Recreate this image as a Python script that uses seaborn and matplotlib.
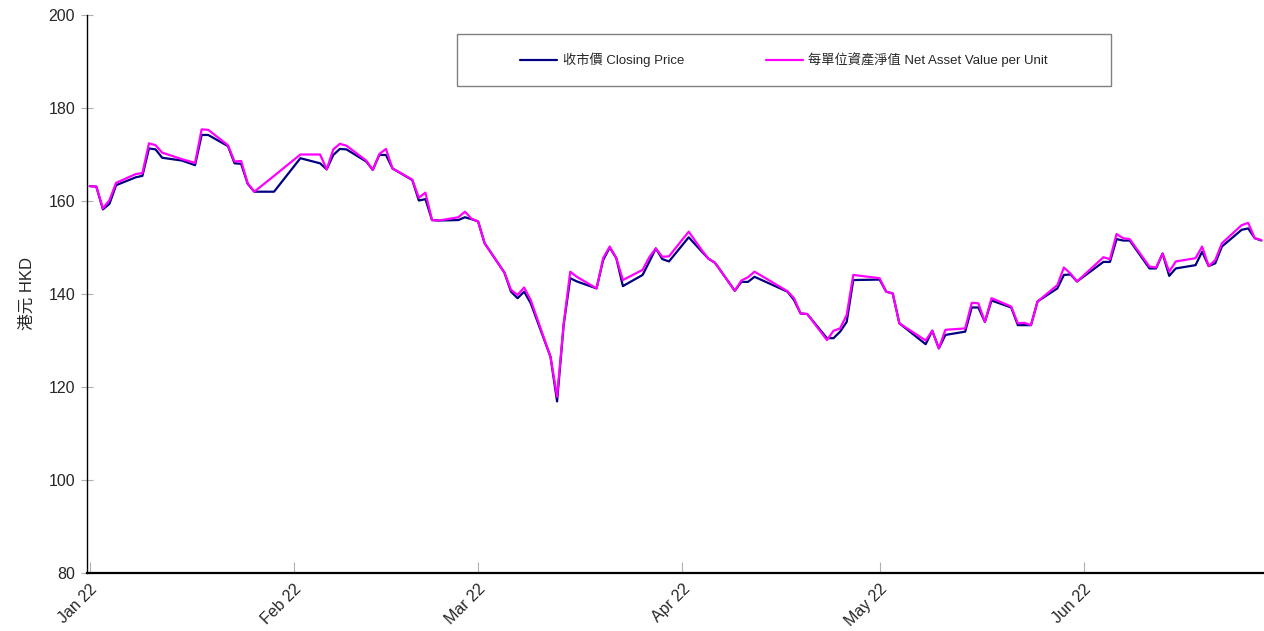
import matplotlib
matplotlib.use("Agg")
import matplotlib.pyplot as plt
import matplotlib.patches as mpatches
import seaborn as sns
import pandas as pd

dates = [
    "2022-01-03", "2022-01-04", "2022-01-05", "2022-01-06", "2022-01-07",
    "2022-01-10", "2022-01-11", "2022-01-12", "2022-01-13", "2022-01-14",
    "2022-01-17", "2022-01-18", "2022-01-19", "2022-01-20", "2022-01-21",
    "2022-01-24", "2022-01-25", "2022-01-26", "2022-01-27", "2022-01-28",
    "2022-01-31", "2022-02-04",
    "2022-02-07", "2022-02-08", "2022-02-09", "2022-02-10", "2022-02-11",
    "2022-02-14", "2022-02-15", "2022-02-16", "2022-02-17", "2022-02-18",
    "2022-02-21", "2022-02-22", "2022-02-23", "2022-02-24", "2022-02-25",
    "2022-02-28", "2022-03-01", "2022-03-02", "2022-03-03", "2022-03-04",
    "2022-03-07", "2022-03-08", "2022-03-09", "2022-03-10", "2022-03-11",
    "2022-03-14", "2022-03-15", "2022-03-16", "2022-03-17", "2022-03-18",
    "2022-03-21", "2022-03-22", "2022-03-23", "2022-03-24", "2022-03-25",
    "2022-03-28", "2022-03-29", "2022-03-30", "2022-03-31", "2022-04-01",
    "2022-04-04", "2022-04-06", "2022-04-07", "2022-04-08",
    "2022-04-11", "2022-04-12", "2022-04-13", "2022-04-14",
    "2022-04-19", "2022-04-20", "2022-04-21", "2022-04-22",
    "2022-04-25", "2022-04-26", "2022-04-27", "2022-04-28", "2022-04-29",
    "2022-05-03", "2022-05-04", "2022-05-05", "2022-05-06",
    "2022-05-10", "2022-05-11", "2022-05-12", "2022-05-13",
    "2022-05-16", "2022-05-17", "2022-05-18", "2022-05-19", "2022-05-20",
    "2022-05-23", "2022-05-24", "2022-05-25", "2022-05-26", "2022-05-27",
    "2022-05-30", "2022-05-31", "2022-06-01", "2022-06-02",
    "2022-06-06", "2022-06-07", "2022-06-08", "2022-06-09", "2022-06-10",
    "2022-06-13", "2022-06-14", "2022-06-15", "2022-06-16", "2022-06-17",
    "2022-06-20", "2022-06-21", "2022-06-22", "2022-06-23", "2022-06-24",
    "2022-06-27", "2022-06-28", "2022-06-29", "2022-06-30",
]

closing_price = [
    163.2, 163.1, 158.2, 159.4, 163.4,
    165.1, 165.4, 171.3, 171.1, 169.3,
    168.7, 168.2, 167.7, 174.2, 174.2,
    171.8, 168.1, 168.0, 163.7, 162.0,
    162.0, 169.2,
    168.1, 166.8, 169.9, 171.2, 171.1,
    168.5, 166.7, 169.9, 169.9, 167.0,
    164.5, 160.1, 160.4, 155.9, 155.8,
    155.9, 156.5, 156.1, 155.6, 150.9,
    144.6, 140.5, 139.1, 140.5, 138.0,
    126.5, 116.9, 133.3, 143.4, 142.7,
    141.2, 147.3, 150.0, 147.7, 141.7,
    144.1, 146.9, 149.8, 147.5, 147.0,
    152.2, 149.1, 147.6, 146.7,
    140.7, 142.6, 142.6, 143.7,
    140.5, 138.7, 135.8, 135.7,
    130.5, 130.5, 131.9, 134.0, 143.0,
    143.1, 140.5, 140.1, 133.7,
    129.2, 132.1, 128.3, 131.2,
    131.9, 137.1, 137.1, 134.0, 138.6,
    137.1, 133.3, 133.3, 133.3, 138.4,
    141.2, 144.1, 144.2, 142.7,
    146.9, 146.9, 151.8, 151.5, 151.5,
    145.5, 145.5, 148.7, 143.9, 145.5,
    146.2, 149.1, 146.0, 146.6, 150.2,
    153.8, 154.1, 152.0, 151.5,
]

nav_per_unit = [
    163.2, 163.1, 158.4, 160.2, 163.9,
    165.8, 166.0, 172.4, 172.0, 170.4,
    169.0, 168.6, 168.2, 175.4, 175.3,
    172.0, 168.5, 168.6, 163.8, 162.0,
    165.4, 170.0,
    170.0, 166.8, 171.1, 172.3, 171.9,
    168.7, 166.7, 170.1, 171.2, 167.0,
    164.6, 160.7, 161.8, 155.9, 155.8,
    156.5, 157.7, 156.2, 155.6, 150.9,
    144.6, 140.9, 139.8, 141.4, 138.7,
    126.5, 117.9, 133.6, 144.8, 143.7,
    141.2, 147.7, 150.2, 147.7, 143.0,
    145.2, 147.9, 149.8, 148.0, 148.1,
    153.4, 149.4, 147.6, 146.7,
    140.7, 142.9, 143.6, 144.8,
    140.6, 139.1, 135.8, 135.7,
    130.1, 132.1, 132.6, 135.5, 144.1,
    143.4, 140.5, 140.1, 133.7,
    130.0, 132.1, 128.3, 132.3,
    132.6, 138.1, 138.0, 134.0, 139.1,
    137.3, 133.7, 133.8, 133.3, 138.4,
    141.9, 145.7, 144.4, 142.7,
    147.9, 147.5, 152.9, 152.0, 151.8,
    145.9, 145.7, 148.7, 144.8, 147.0,
    147.7, 150.2, 146.0, 147.3, 150.9,
    154.8, 155.3, 152.0, 151.6,
]

tick_dates = ["2022-01-03", "2022-02-03", "2022-03-03", "2022-04-03", "2022-05-03", "2022-06-03"]
tick_labels = ["Jan 22", "Feb 22", "Mar 22", "Apr 22", "May 22", "Jun 22"]
y_ticks = [80, 100, 120, 140, 160, 180, 200]

label_close = "收市價 Closing Price"
label_nav = "每單位資產淨值 Net Asset Value per Unit"
y_label = "港元 HKD"

sns.set_style("white")
plt.rcParams["font.family"] = ["Liberation Sans", "Noto Sans CJK TC", "DejaVu Sans"]

df = pd.DataFrame({
    "date": pd.to_datetime(dates),
    "close": closing_price,
    "nav": nav_per_unit,
})

fig = plt.figure(figsize=(12.64, 6.31), dpi=100)
ax = fig.add_axes([87 / 1264, 1 - 573 / 631, 1176 / 1264, 558 / 631])

sns.lineplot(data=df, x="date", y="close", ax=ax, color="#000080", linewidth=1.6, label=label_close)
sns.lineplot(data=df, x="date", y="nav", ax=ax, color="#FF00FF", linewidth=1.6, label=label_nav)

ax.set_ylim(80, 200)
ax.set_yticks(y_ticks)
ax.set_xlim(pd.Timestamp("2022-01-03") - pd.Timedelta(hours=10), pd.Timestamp("2022-06-30") + pd.Timedelta(hours=6))
ax.set_xticks(pd.to_datetime(tick_dates))
ax.set_xticklabels(tick_labels, rotation=45, ha="right", va="top", rotation_mode="anchor")

ax.tick_params(axis="y", direction="inout", length=9, color="#b0b0b0", labelsize=11.5, pad=4, left=True)
ax.tick_params(axis="x", direction="in", length=8, color="#b0b0b0", labelsize=11.5, pad=6, bottom=True)

ax.set_xlabel("")
ax.set_ylabel(y_label, fontsize=12, labelpad=10)

for s in ["top", "right"]:
    ax.spines[s].set_visible(False)
ax.spines["left"].set_color("black")
ax.spines["left"].set_linewidth(1.0)
ax.spines["bottom"].set_color("black")
ax.spines["bottom"].set_linewidth(1.6)

# legend box
bx0 = (457 - 87) / 1176
bx1 = (1111 - 87) / 1176
by0 = (573 - 86) / 558
by1 = (573 - 34) / 558
rect = mpatches.Rectangle((bx0, by0), bx1 - bx0, by1 - by0, transform=ax.transAxes,
                          facecolor="white", edgecolor="#808080", linewidth=1.0, zorder=5, clip_on=False)
ax.add_patch(rect)
leg = ax.legend(loc="center", bbox_to_anchor=((bx0 + bx1) / 2, (by0 + by1) / 2), ncol=2,
                frameon=False, fontsize=9.5, handlelength=2.8, handletextpad=0.4,
                columnspacing=6.2)
leg.set_zorder(6)

fig.savefig("out.png", dpi=100)
